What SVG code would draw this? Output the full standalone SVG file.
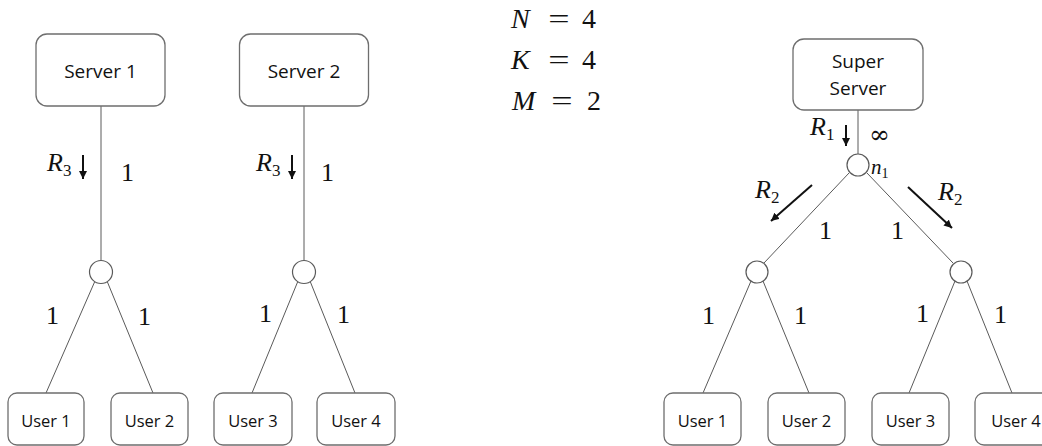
<svg xmlns="http://www.w3.org/2000/svg" width="1042" height="446" viewBox="0 0 1042 446">
<style>
.box{fill:#fff;stroke:#6e6e6e;stroke-width:1.3}
.ln{stroke:#5a5a5a;stroke-width:1;fill:none}
.nd{fill:#fff;stroke:#5a5a5a;stroke-width:1.2}
.arr{stroke:#111;stroke-width:2;fill:none;marker-end:url(#ah)}
.lbl{font-family:"Open Sans","Liberation Sans",sans-serif;fill:#111;text-anchor:middle}
.srv{font-size:19px}
.usr{font-size:16.5px}
.m{font-family:"Liberation Serif","DejaVu Serif",serif;fill:#111;font-size:26px}
.mi{font-style:italic}
.sub{font-size:17px;font-style:normal}
.eq{font-family:"Liberation Serif","DejaVu Serif",serif;fill:#111;font-size:28px}
</style>
<defs>
<marker id="ah" markerUnits="userSpaceOnUse" markerWidth="9" markerHeight="8" refX="8" refY="4" orient="auto">
<path d="M0,0 L8,4 L0,8 z" fill="#111"/>
</marker>
</defs>

<g id="equations">
<text class="eq mi" x="511" y="28">N</text><text class="eq" x="559" y="28" text-anchor="middle" transform="translate(559 0) scale(1.35 1) translate(-559 0)">=</text><text class="eq" x="582" y="28">4</text>
<text class="eq mi" x="511" y="69">K</text><text class="eq" x="559" y="69" text-anchor="middle" transform="translate(559 0) scale(1.35 1) translate(-559 0)">=</text><text class="eq" x="582" y="69">4</text>
<text class="eq mi" x="512" y="110">M</text><text class="eq" x="562" y="110" text-anchor="middle" transform="translate(562 0) scale(1.35 1) translate(-562 0)">=</text><text class="eq" x="587" y="110">2</text>
</g>

<g id="connectors">
<line class="ln" x1="101" y1="106" x2="101" y2="260.5"/>
<line class="ln" x1="95" y1="281" x2="46" y2="393"/>
<line class="ln" x1="107" y1="281" x2="153" y2="393"/>
<line class="ln" x1="304" y1="106" x2="304" y2="260.5"/>
<line class="ln" x1="298" y1="281" x2="252" y2="393"/>
<line class="ln" x1="310" y1="281" x2="355" y2="393"/>
<line class="ln" x1="858" y1="110" x2="858" y2="154"/>
<line class="ln" x1="849" y1="173" x2="764" y2="263"/>
<line class="ln" x1="867" y1="173" x2="953" y2="263"/>
<line class="ln" x1="751" y1="281" x2="703" y2="393"/>
<line class="ln" x1="763" y1="281" x2="809" y2="393"/>
<line class="ln" x1="955" y1="281" x2="909" y2="393"/>
<line class="ln" x1="967" y1="281" x2="1012" y2="393"/>
<line class="arr" x1="83" y1="155" x2="83" y2="179"/>
<line class="arr" x1="292" y1="155" x2="292" y2="179"/>
<line class="arr" x1="846" y1="125" x2="846" y2="146"/>
<line class="arr" x1="812" y1="185" x2="771" y2="221"/>
<line class="arr" x1="908" y1="187" x2="952" y2="228"/>
</g>

<g id="edge-labels">
<text class="m mi" x="47" y="171">R<tspan class="sub" dy="5">3</tspan></text>
<text class="m" x="121" y="181">1</text>
<text class="m mi" x="256" y="171">R<tspan class="sub" dy="5">3</tspan></text>
<text class="m" x="321" y="181">1</text>
<text class="m" x="46" y="324">1</text>
<text class="m" x="138" y="325">1</text>
<text class="m" x="259" y="322">1</text>
<text class="m" x="337" y="323">1</text>
<text class="m mi" x="810" y="135">R<tspan class="sub" dy="5">1</tspan></text>
<text x="869" y="143" style="font-family:'DejaVu Serif',serif;font-size:25px;fill:#111">∞</text>
<text class="m mi" x="871" y="174" style="font-size:21px">n<tspan class="sub" dy="4" style="font-size:14px">1</tspan></text>
<text class="m mi" x="755" y="198">R<tspan class="sub" dy="5">2</tspan></text>
<text class="m mi" x="938" y="200">R<tspan class="sub" dy="5">2</tspan></text>
<text class="m" x="819" y="239">1</text>
<text class="m" x="891" y="239">1</text>
<text class="m" x="702" y="324">1</text>
<text class="m" x="794" y="324">1</text>
<text class="m" x="916" y="322">1</text>
<text class="m" x="994" y="323">1</text>
</g>

<g id="server1"><rect class="box" x="36" y="34" width="129" height="72" rx="11"/><text class="lbl srv" x="100.5" y="78">Server 1</text></g>
<g id="server2"><rect class="box" x="239.5" y="34" width="129" height="72" rx="11"/><text class="lbl srv" x="304" y="78">Server 2</text></g>
<g id="superserver"><rect class="box" x="793" y="39" width="130" height="71" rx="11"/><text class="lbl srv" x="858" y="68">Super</text><text class="lbl srv" x="858" y="95">Server</text></g>

<g id="junction1"><circle class="nd" cx="101" cy="272" r="11.5"/></g>
<g id="junction2"><circle class="nd" cx="304" cy="272" r="11.5"/></g>
<g id="n1"><circle class="nd" cx="858" cy="165" r="11"/></g>
<g id="junction3"><circle class="nd" cx="757" cy="272" r="11"/></g>
<g id="junction4"><circle class="nd" cx="961" cy="272" r="11"/></g>

<g id="t1user1"><rect class="box" x="8" y="393" width="76" height="52" rx="9"/><text class="lbl usr" x="46" y="427">User 1</text></g>
<g id="t1user2"><rect class="box" x="111" y="393" width="77" height="52" rx="9"/><text class="lbl usr" x="149.5" y="427">User 2</text></g>
<g id="t2user3"><rect class="box" x="214" y="393" width="78" height="52" rx="9"/><text class="lbl usr" x="253" y="427">User 3</text></g>
<g id="t2user4"><rect class="box" x="317" y="393" width="78" height="52" rx="9"/><text class="lbl usr" x="356" y="427">User 4</text></g>
<g id="suser1"><rect class="box" x="664" y="393" width="77" height="52" rx="9"/><text class="lbl usr" x="702.5" y="427">User 1</text></g>
<g id="suser2"><rect class="box" x="768" y="393" width="77" height="52" rx="9"/><text class="lbl usr" x="806.5" y="427">User 2</text></g>
<g id="suser3"><rect class="box" x="872" y="393" width="77" height="52" rx="9"/><text class="lbl usr" x="910.5" y="427">User 3</text></g>
<g id="suser4"><rect class="box" x="975" y="393" width="77" height="52" rx="9"/><text class="lbl usr" x="1016" y="427">User 4</text></g>
</svg>
